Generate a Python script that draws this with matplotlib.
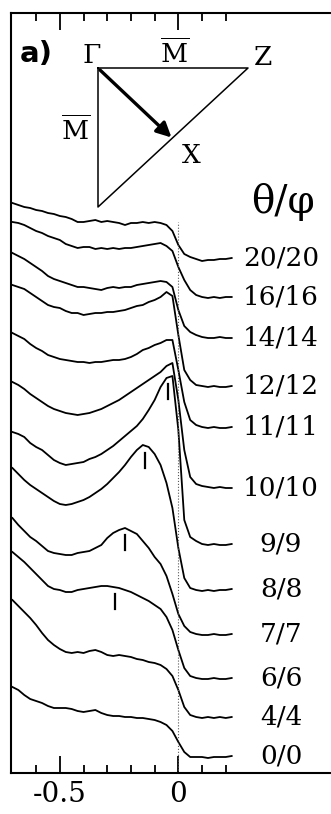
import numpy as np
import matplotlib
matplotlib.use('Agg')
import matplotlib.pyplot as plt

plt.rcParams['font.family'] = 'DejaVu Serif'
plt.rcParams['mathtext.fontset'] = 'dejavuserif'
plt.rcParams['axes.unicode_minus'] = False

# Binding energy grid (eV) shared by all spectra
energy = [-0.700, -0.675, -0.650, -0.625, -0.600, -0.575, -0.550, -0.525,
          -0.500, -0.475, -0.450, -0.425, -0.400, -0.375, -0.350, -0.325,
          -0.300, -0.275, -0.250, -0.225, -0.200, -0.175, -0.150, -0.125,
          -0.100, -0.075, -0.050, -0.025, 0.000, 0.025, 0.050, 0.075,
          0.100, 0.125, 0.150, 0.175, 0.200, 0.225]

# Stacked EDCs (arb. units, vertical offsets included), top to bottom
edc_20 = [570, 568, 566, 565, 563, 562, 560, 559, 557, 556, 554, 551, 551, 552, 553, 551, 552, 551, 550,
          548, 550, 550, 551, 550, 551, 550, 548, 542, 528, 519, 516, 514, 512, 513, 513, 514, 514, 515]
edc_16 = [551, 550, 548, 545, 542, 540, 537, 535, 533, 529, 527, 525, 526, 526, 524, 525, 524, 525, 524,
          525, 525, 526, 527, 528, 529, 530, 527, 522, 506, 493, 483, 478, 476, 475, 476, 475, 476, 476]
edc_14 = [520, 517, 514, 510, 506, 502, 497, 494, 492, 490, 488, 486, 486, 485, 484, 483, 485, 486, 485,
          486, 486, 488, 489, 490, 491, 492, 491, 486, 463, 447, 441, 438, 436, 435, 435, 436, 435, 435]
edc_12 = [488, 486, 484, 480, 476, 472, 468, 466, 465, 462, 460, 460, 458, 459, 460, 460, 461, 461, 462,
          463, 465, 467, 468, 471, 473, 476, 481, 477, 438, 403, 393, 388, 387, 386, 387, 386, 386, 387]
edc_11 = [440, 437, 434, 429, 425, 422, 418, 416, 414, 413, 412, 411, 411, 410, 411, 411, 412, 413, 413,
          414, 416, 419, 423, 425, 428, 430, 433, 433, 403, 371, 353, 348, 346, 345, 346, 345, 345, 346]
edc_10 = [391, 388, 384, 379, 375, 371, 367, 364, 362, 360, 359, 358, 359, 360, 362, 364, 367, 370, 373,
          377, 381, 385, 389, 393, 397, 401, 407, 410, 373, 323, 296, 289, 287, 286, 285, 286, 285, 285]
edc_9 = [341, 339, 336, 330, 326, 323, 318, 313, 310, 308, 309, 310, 311, 314, 316, 319, 323, 327, 332,
         337, 342, 347, 354, 363, 373, 386, 395, 397, 343, 253, 236, 232, 229, 228, 229, 228, 228, 229]
edc_8 = [305, 299, 293, 288, 284, 280, 276, 272, 269, 268, 269, 271, 273, 276, 280, 284, 289, 295, 301,
         308, 316, 323, 328, 326, 319, 308, 290, 265, 225, 195, 185, 183, 182, 183, 182, 183, 183, 184]
edc_7 = [255, 248, 242, 236, 232, 227, 222, 220, 219, 218, 218, 220, 221, 222, 225, 228, 235, 240, 243,
         245, 242, 239, 232, 225, 216, 209, 197, 179, 159, 147, 141, 139, 138, 138, 139, 138, 138, 139]
edc_6 = [221, 216, 211, 205, 199, 193, 187, 184, 183, 181, 181, 183, 184, 185, 186, 187, 187, 186, 185,
         183, 181, 178, 175, 172, 168, 164, 156, 143, 123, 105, 97, 95, 94, 94, 95, 94, 94, 95]
edc_4 = [173, 167, 161, 155, 148, 140, 133, 128, 124, 121, 120, 121, 120, 122, 123, 121, 118, 117, 118,
         117, 116, 114, 113, 111, 110, 108, 104, 97, 83, 66, 58, 56, 55, 56, 55, 56, 55, 56]
edc_0 = [86, 83, 78, 74, 72, 70, 67, 65, 65, 65, 64, 62, 61, 62, 63, 60, 58, 57, 57,
         56, 56, 55, 55, 54, 53, 51, 48, 42, 31, 21, 16, 16, 16, 15, 16, 16, 16, 17]

angle_labels = ['20/20', '16/16', '14/14', '12/12', '11/11', '10/10',
                '9/9', '8/8', '7/7', '6/6', '4/4', '0/0']
spectra = [edc_20, edc_16, edc_14, edc_12, edc_11, edc_10,
           edc_9, edc_8, edc_7, edc_6, edc_4, edc_0]

# Peak positions marked by small ticks
peak_labels = ['9/9', '8/8', '7/7', '6/6']
peak_energy = [-0.043, -0.14, -0.225, -0.267]

fig = plt.figure(figsize=(3.31, 8.14), dpi=100)
ax = fig.add_axes([11 / 331, 41 / 814, 320 / 331, 760 / 814])

for lab, spec in zip(angle_labels, spectra):
    ax.plot(energy, spec, color='black', lw=1.3)
    ax.text(0.433, spec[-1], lab, ha='center', va='center', fontsize=19)

for lab, e0 in zip(peak_labels, peak_energy):
    spec = spectra[angle_labels.index(lab)]
    y0 = np.interp(e0, energy, spec)
    ax.plot([e0, e0], [y0 - 7, y0 - 22], color='black', lw=1.6)

# Fermi level
ax.axvline(0, ymin=0, ymax=551 / 760, color='0.35', lw=0.8, ls=':')

ax.set_xlim(-0.706, 0.644)
ax.set_ylim(0, 760)
ax.set_xticks([-0.5, 0], ['-0.5', '0'])
ax.set_xticks([-0.6, -0.4, -0.3, -0.2, -0.1, 0.1, 0.2], minor=True)
ax.tick_params(axis='x', which='both', direction='in', top=True, width=1.3, labelsize=20, pad=6)
ax.tick_params(axis='x', which='major', length=12)
ax.tick_params(axis='x', which='minor', length=6)
ax.set_yticks([])
ax.spines['right'].set_visible(False)
for s in ['left', 'top', 'bottom']:
    ax.spines[s].set_linewidth(1.5)

# Brillouin zone sketch
bz = fig.add_axes([98 / 331, 607 / 814, 150 / 331, 139 / 814])
bz.set_xlim(0, 1)
bz.set_ylim(-1, 0)
bz.axis('off')
bz.plot([0, 1, 0, 0], [0, 0, -1, 0], color='black', lw=1.1, clip_on=False)
bz.annotate('', xy=(0.49, -0.5), xytext=(0.013, -0.014),
            arrowprops=dict(arrowstyle='-|>', lw=2.4, color='black', mutation_scale=22,
                            shrinkA=0, shrinkB=0))
bz.text(-0.04, 0.036, 'Γ', ha='center', va='baseline', fontsize=19)
bz.text(0.513, 0.036, r'$\overline{\mathrm{M}}$', ha='center', va='baseline', fontsize=19)
bz.text(1.10, 0.022, 'Z', ha='center', va='baseline', fontsize=19)
bz.text(-0.147, -0.518, r'$\overline{\mathrm{M}}$', ha='center', va='baseline', fontsize=19)
bz.text(0.62, -0.683, 'X', ha='center', va='baseline', fontsize=19)

fig.text(20 / 331, (814 - 62) / 814, 'a)', ha='left', va='baseline',
         fontsize=21, fontweight='bold', family='DejaVu Sans')
fig.text(283 / 331, (814 - 213) / 814, 'θ/φ', ha='center', va='baseline', fontsize=28)

fig.savefig('out.png', dpi=100)
